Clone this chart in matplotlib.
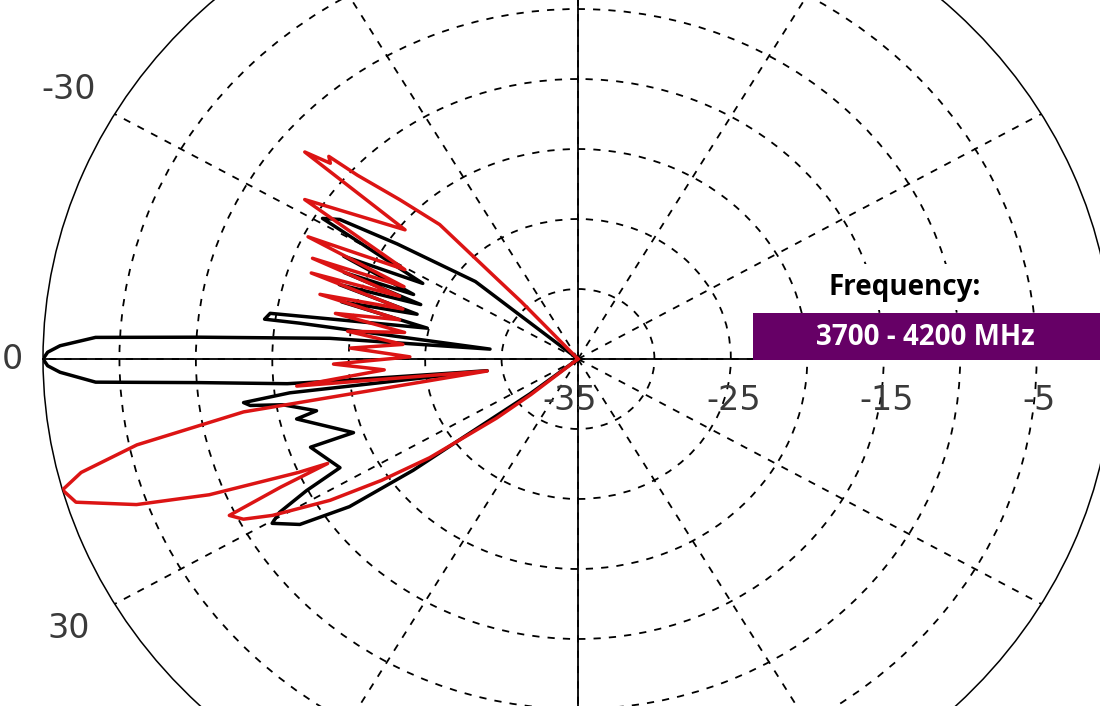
import numpy as np
import matplotlib
matplotlib.use('Agg')
import matplotlib.pyplot as plt
from matplotlib.patches import Rectangle

# elevation angle (deg, negative = above horizon) and relative level (dB)
black_deg = [-43, -39.5, -34.8, -32.6, -31.0, -28.0, -25.6, -23.2, -22.0, -20.7,
             -18.8, -16.9, -14.8, -12.6, -10.0, -9.2, -7.9, -8.0, -7.0, -5.2,
             -3.6, -2.8, -1.6, -0.8, 0.0, 0.8, 1.6, 3.0, 3.9, 5.3,
             5.6, 8.0, 7.3, 8.1, 8.8, 9.6, 12.2, 13.1, 19.7, 19.8,
             26.5, 27.9, 29.3, 30.4, 33.0, 35.2, 36.4, 36.7, 38.4, 40.0]
black_db = [-35, -26.3, -20.6, -16.5, -15.5, -23.5, -18.0, -23.3, -18.5, -24.0,
            -18.5, -24.0, -19.0, -24.9, -18.5, -14.6, -14.3, -16.6, -29.2, -18.7,
            -10.2, -3.4, -1.1, -0.3, 0.0, -0.3, -1.1, -3.4, -10.2, -15.9,
            -18.7, -29.0, -16.0, -12.9, -13.3, -15.4, -17.5, -16.1, -19.4, -16.4,
            -17.6, -14.9, -12.6, -11.8, -13.3, -16.7, -21.6, -25.6, -31.0, -35]

red_deg = [-49, -47.8, -47.2, -46.7, -44.3, -42.3, -41.6, -40.8, -39.6, -39.2,
           -32.5, -29.4, -26.3, -24.4, -22.5, -21.0, -19.4, -17.3, -15.3, -13.5,
           -11.6, -9.5, -7.5, -5.2, -3.0, -0.8, 1.3, 3.5, 6.0, 8.2,
           9.8, 12.0, 14.0, 15.5, 17.3, 19.8, 21.9, 23.9, 24.5, 25.2,
           26.1, 27.6, 29.2, 31.9, 34.0, 36.0, 38.4, 39.5, 41.0]
red_db = [-35, -29.5, -27.2, -21.8, -18.7, -15.5, -13.2, -13.6, -11.8, -20.4,
          -13.8, -22.0, -15.3, -22.5, -16.2, -22.5, -16.5, -23.0, -17.5, -23.0,
          -18.8, -23.5, -19.8, -23.5, -20.1, -24.0, -19.0, -22.3, -16.5, -29.0,
          -12.8, -5.5, -1.5, 0.0, -0.6, -4.3, -9.0, -15.0, -17.0, -13.5,
          -9.6, -10.3, -12.1, -15.9, -19.5, -23.0, -28.2, -31.0, -35]

ring_db = [-30, -25, -20, -15, -10, -5]
ring_label_db = [-35, -25, -15, -5]
angle_ticks = list(range(0, 360, 30))
# only these angle labels fall inside the picture
angle_label_deg = [-30, 0, 30]

fig = plt.figure(figsize=(11, 7.06), dpi=100)
ax = fig.add_axes([0.0391, -0.2025, 0.9727, 1.388], projection='polar')
ax.set_aspect('auto')
ax.set_theta_zero_location('W')
ax.set_theta_direction(1)
ax.set_rlim(-35, 0)

ax.set_rgrids(ring_db, labels=[''] * len(ring_db))
ax.set_thetagrids(angle_ticks, labels=[''] * len(angle_ticks))
ax.grid(True, color='black', linestyle=(0, (4, 4.5)), linewidth=1.3)
ax.spines['polar'].set_linewidth(1.1)

# solid cross through the centre
for a in [0, 90, 180, 270]:
    ax.axvline(np.deg2rad(a), color='black', lw=1.3, zorder=2)

ax.plot(np.deg2rad(black_deg), black_db, color='black', lw=2.5, zorder=3)
ax.plot(np.deg2rad(red_deg), red_db, color='#dc1414', lw=2.5, zorder=4)

# angle labels just outside the outer ring
for a in angle_label_deg:
    ax.text(np.deg2rad(a), 2.0 if a == 0 else 3.5, str(a), ha='center',
            va='center', fontsize=24, color='#3a3a3a', clip_on=False)

for r in ring_label_db:
    ax.annotate(str(r), xy=(np.pi, r), xytext=(-6 if r == -35 else 2, -30),
                textcoords='offset points', ha='center', va='center',
                fontsize=24, color='#3a3a3a')

fig.add_artist(Rectangle((753 / 1100, 346 / 706), 347 / 1100, 47 / 706,
                         transform=fig.transFigure, facecolor='#660066',
                         edgecolor='none', zorder=5))
fig.text(925 / 1100, 369 / 706, '3700 - 4200 MHz', color='white',
         fontsize=20, fontweight='bold', family='Open Sans',
         ha='center', va='center', zorder=6)
fig.text(905 / 1100, 419 / 706, 'Frequency:', color='black',
         fontsize=20, fontweight='bold', family='Open Sans',
         ha='center', va='center', zorder=6,
         bbox=dict(facecolor='white', edgecolor='none', pad=6))

fig.savefig('out.png', dpi=100)
